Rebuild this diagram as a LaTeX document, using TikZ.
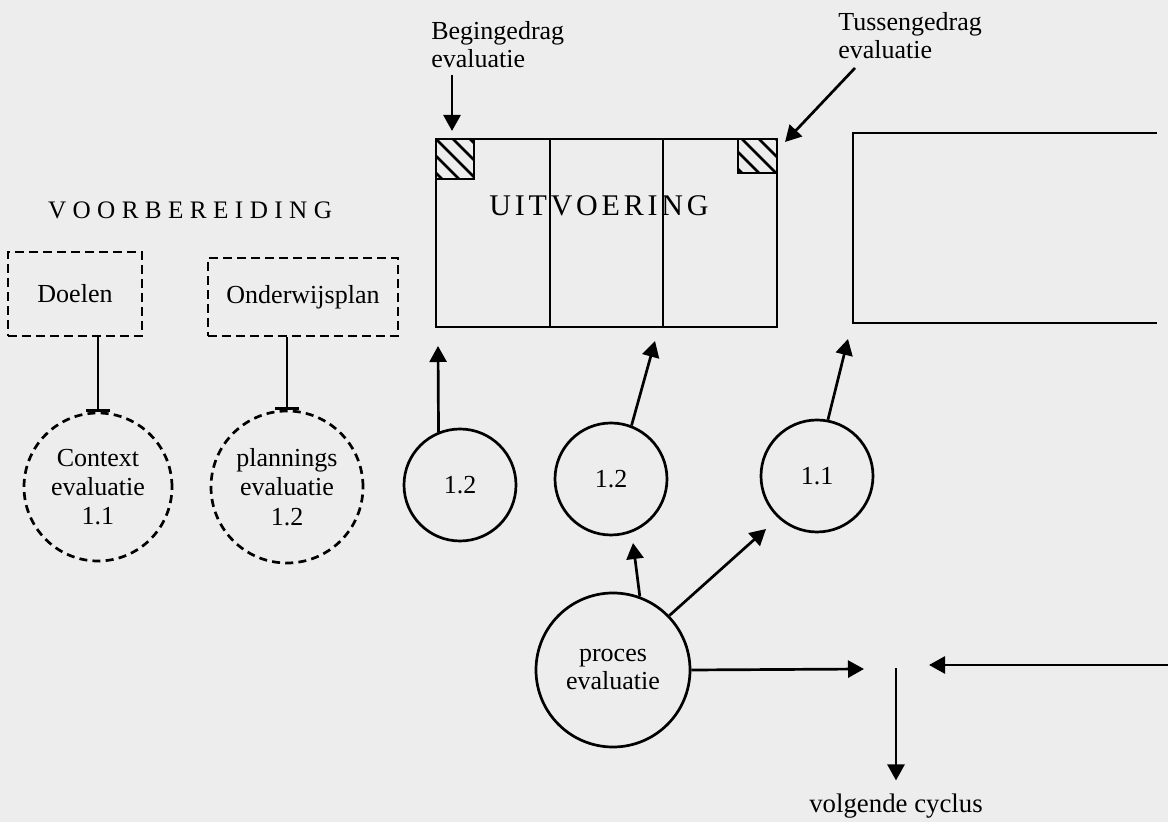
\documentclass[tikz,border=0pt]{standalone}
\usepackage{fontspec}
\setmainfont{Liberation Serif}
\usetikzlibrary{arrows.meta}
\newcommand{\lblfont}{\fontsize{13}{14}\selectfont}
\newcommand{\lsp}{\kern3.2pt}
\newcommand{\usp}{\kern1.9pt}
\begin{document}
\begin{tikzpicture}[x=0.5pt,y=-0.5pt,line width=1.35pt,
  arr/.style={-{Triangle[length=8pt,width=8.5pt]}},
  tee/.style={-{Bar[width=12pt]}},
  dashbox/.style={draw,dash pattern=on 4.5pt off 2.5pt,inner sep=0,font=\lblfont},
  dashcirc/.style={draw,circle,dash pattern=on 4pt off 2.6pt,inner sep=0,align=center,font=\lblfont},
  evcirc/.style={draw,circle,inner sep=0,align=center,font=\lblfont},
  lbl/.style={inner sep=0,align=left,font=\lblfont},
  hatch/.style={line width=1.4pt}]
% paper
\fill[black!7] (0,0) rectangle (1168,822);
\useasboundingbox (0,0) rectangle (1168,822);

% --- preparation phase ---
\node[inner sep=0,font=\fontsize{12.6}{14}\selectfont] (prep) at (190,210)
  {V\lsp O\lsp O\lsp R\lsp B\lsp E\lsp R\lsp E\lsp I\lsp D\lsp I\lsp N\lsp G};
\node[dashbox,minimum width=67pt,minimum height=42pt] (doel) at (75,294) {Doelen};
\node[dashbox,minimum width=95pt,minimum height=39pt] (plan) at (303,297) {Onderwijsplan};
\node[dashcirc,minimum size=74pt] (ctx) at (98,487) {Context\\[0.6pt]evaluatie\\[0.6pt]1.1};
\node[dashcirc,minimum size=76pt] (pln) at (287,487) {plannings\\[0.6pt]evaluatie\\[0.6pt]1.2};
\draw[tee] (ctx.north |- doel.south) -- (ctx.north);
\draw[tee] (pln.north |- plan.south) -- (pln.north);

% --- execution phase ---
\draw (436,139) rectangle (777,327);
\draw (550,139) -- (550,327);
\draw (663,139) -- (663,327);
\begin{scope}
  \clip (436,139) rectangle (474,179);
  \foreach \k in {-51,-34,...,34} \draw[hatch] ({436+\k},139) -- ({476+\k},179);
\end{scope}
\draw (436,139) rectangle (474,179);
\begin{scope}
  \clip (738,139) rectangle (777,173);
  \foreach \k in {-51,-34,...,34} \draw[hatch] ({742+\k},139) -- ({782+\k},179);
\end{scope}
\draw (738,139) rectangle (777,173);
\node[inner sep=0,font=\fontsize{15}{16}\selectfont] (uitv) at (599,206)
  {U\usp I\usp T\usp V\usp O\usp E\usp R\usp I\usp N\usp G};

% next block, open to the right
\draw (1157,133) -- (853,133) -- (853,323) -- (1157,323);

% entry and intermediate evaluation labels
\node[lbl,anchor=north west] (beg) at (430,20) {Begingedrag\\evaluatie};
\node[lbl,anchor=north west] (tus) at (837,11) {Tussengedrag\\evaluatie};
\coordinate (begtip) at (452,131);
\coordinate (tustip) at (785,142);
\draw[arr] ([xshift=11pt,yshift=-3pt]beg.south west) -- (begtip);
\draw[arr] ([xshift=9pt,yshift=-4pt]tus.south west) -- (tustip);

% --- process evaluations ---
\node[evcirc,minimum size=56pt] (ca) at (460,485) {1.2};
\node[evcirc,minimum size=56pt] (cb) at (611,479) {1.2};
\node[evcirc,minimum size=56pt] (cc) at (817,476) {1.1};
\node[evcirc,minimum size=77pt] (proc) at (613,670) {proces\\evaluatie};

\coordinate (tipa) at (438,346);
\coordinate (tipb) at (655,341);
\coordinate (tipc) at (848,339);
\draw[arr] (ca.112) -- (tipa);
\draw[arr] (cb.69) -- (tipb);
\draw[arr] (cc.79) -- (tipc);

\coordinate (tipm) at (633,543);
\coordinate (tipn) at (766,529);
\draw[arr] (proc.70) -- (tipm);
\draw[arr] (proc.44) -- (tipn);

% feedback towards the next cycle
\coordinate (meetl) at (864,669);
\coordinate (farr) at (1168,665);
\coordinate (meetr) at (929,665);
\coordinate (down) at (896,668);
\node[inner sep=0,font=\fontsize{13.4}{15}\selectfont] (next) at (896,806) {volgende cyclus};
\draw[arr] (proc.east) -- (meetl);
\draw[arr] (farr) -- (meetr);
\draw[arr] (down) -- ([yshift=6pt]next.north -| down);
\end{tikzpicture}
\end{document}
